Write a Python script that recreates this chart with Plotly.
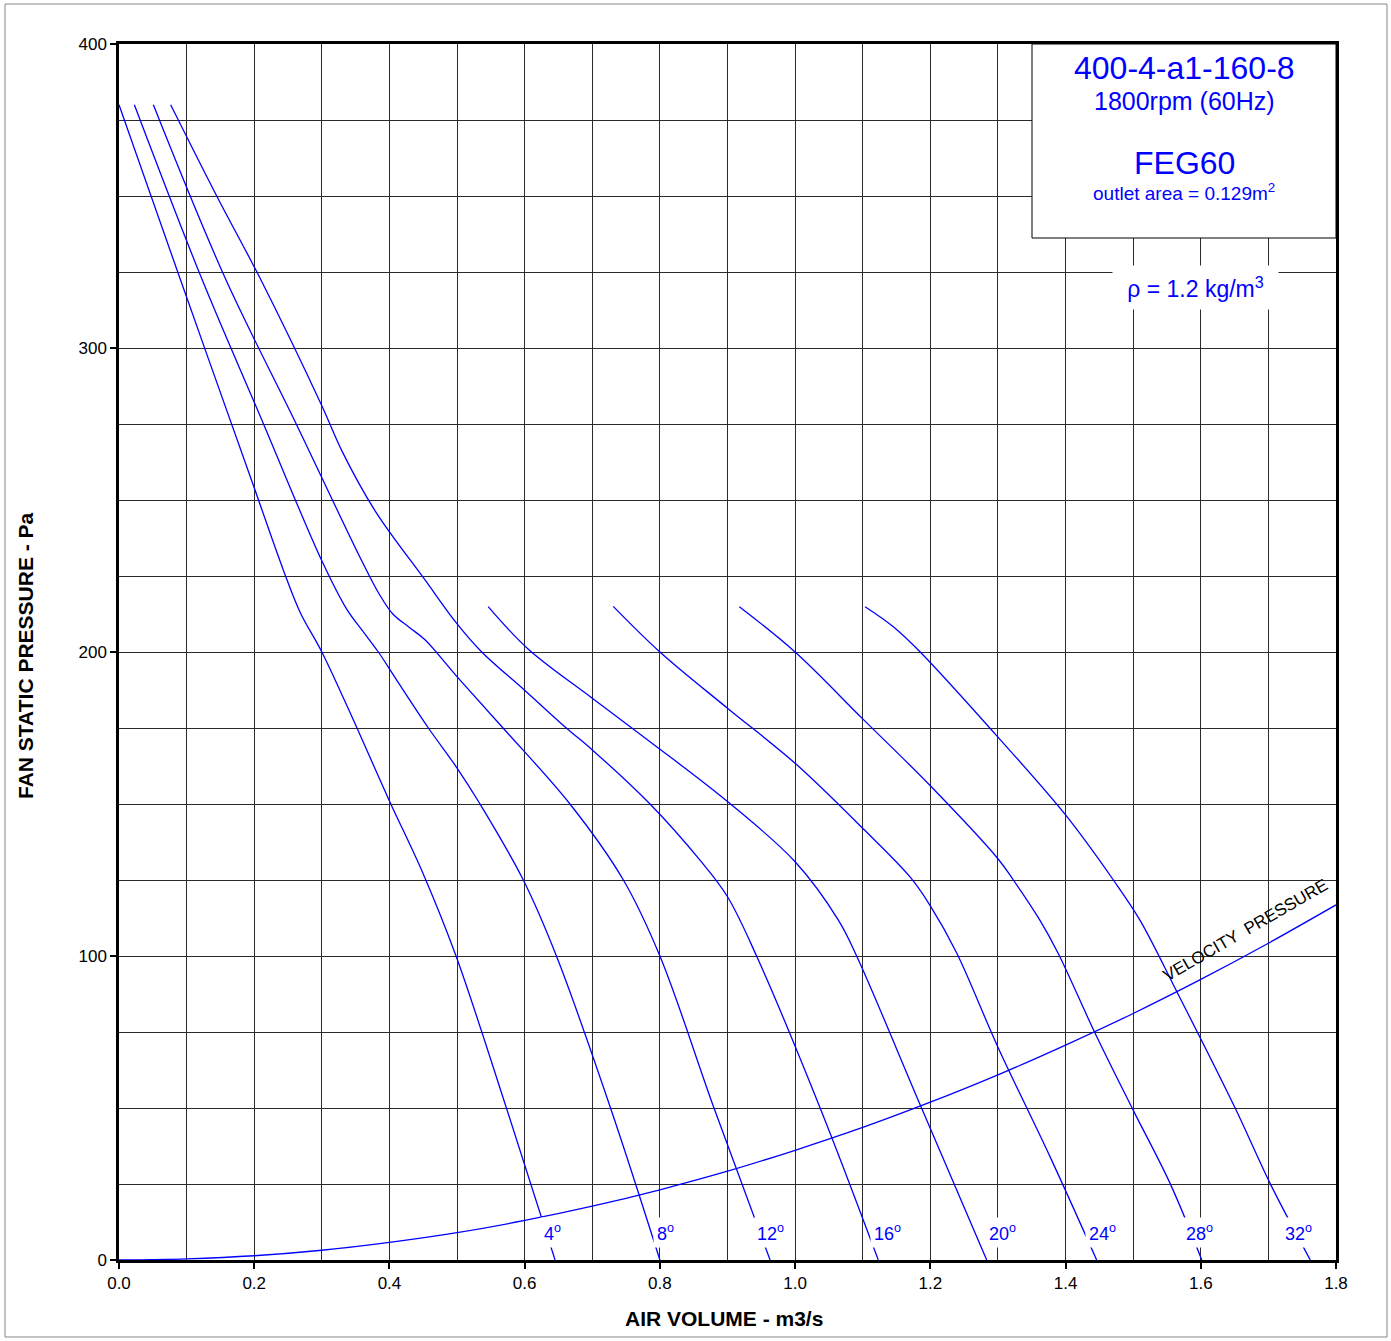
import plotly.graph_objects as go

# ---- data ----
q_4 = [0.0, 0.09, 0.20, 0.243, 0.268, 0.30, 0.352, 0.40, 0.45, 0.4985, 0.573, 0.645]
p_4 = [380, 323, 254, 227, 213, 200, 175, 151, 127, 100, 50, 0]

q_8 = [0.0227, 0.122, 0.21, 0.30, 0.337, 0.36, 0.3836, 0.41, 0.4576, 0.4995, 0.534, 0.598, 0.647, 0.727, 0.80]
p_8 = [380, 323, 277, 230, 214, 207, 200, 191, 175, 162, 150, 125, 100, 50, 0]

q_12 = [0.0508, 0.157, 0.26, 0.359, 0.385, 0.405, 0.43, 0.4526, 0.4995, 0.568, 0.667, 0.746, 0.80, 0.88, 0.963]
p_12 = [380, 323, 276, 230, 219, 212.5, 208, 204, 192, 175, 150, 125, 100, 50, 0]

q_16 = [0.0764, 0.1445, 0.2085, 0.30, 0.33, 0.38, 0.4526, 0.4995, 0.5365, 0.5995, 0.662, 0.70, 0.7854, 0.859, 0.90, 0.943, 1.037, 1.123]
p_16 = [380, 350, 323, 281, 266, 246, 223.7, 209.4, 200, 187.5, 174.9, 167.8, 150, 131.6, 119.5, 100, 50, 0]

q_20 = [0.546, 0.605, 0.70, 0.7854, 0.90, 1.0, 1.064, 1.091, 1.187, 1.2834]
p_20 = [214.9, 201, 184.8, 170.5, 150.8, 131, 111.8, 100, 50, 0]

q_24 = [0.731, 0.80, 0.90, 1.0, 1.10, 1.17, 1.20, 1.239, 1.30, 1.377, 1.446]
p_24 = [215, 200, 181.5, 163.4, 142, 126, 116.5, 101, 70, 34, 0]

q_28 = [0.9175, 1.0, 1.1, 1.2, 1.30, 1.3228, 1.362, 1.389, 1.4437, 1.50, 1.5546, 1.6015]
p_28 = [214.9, 200, 178, 156, 132, 125, 111.8, 100.9, 74.6, 49.3, 25.2, 0]

q_32 = [1.1035, 1.1453, 1.185, 1.30, 1.40, 1.4707, 1.51, 1.5645, 1.651, 1.7025, 1.762]
p_32 = [214.9, 208.3, 200, 172, 146.4, 125, 111.8, 88.3, 49.9, 25.2, 0]

q_vp = [0.0, 0.1, 0.2, 0.3, 0.4, 0.5, 0.6, 0.7, 0.8, 0.9, 1.0, 1.1, 1.2, 1.3, 1.4, 1.5, 1.6, 1.7, 1.8]
p_vp = [0, 0.4, 1.4, 3.2, 5.8, 9.0, 13.0, 17.7, 23.1, 29.2, 36.1, 43.6, 51.9, 60.9, 70.7, 81.1, 92.3, 104.2, 116.8]

angle_labels = ["4", "8", "12", "16", "20", "24", "28", "32"]

x_tick_vals = [0.0, 0.2, 0.4, 0.6, 0.8, 1.0, 1.2, 1.4, 1.6, 1.8]
y_tick_vals = [0, 100, 200, 300, 400]

BLUE = "#0000FF"
FONT = "Liberation Sans, Arial, sans-serif"

fig = go.Figure()

curves = [(q_4, p_4), (q_8, p_8), (q_12, p_12), (q_16, p_16),
          (q_20, p_20), (q_24, p_24), (q_28, p_28), (q_32, p_32)]
for (qx, py), lab in zip(curves, angle_labels):
    fig.add_trace(go.Scatter(x=qx, y=py, mode="lines", name=lab,
                             line=dict(color=BLUE, width=1.3, shape="spline", smoothing=1.0),
                             hoverinfo="x+y"))

fig.add_trace(go.Scatter(x=q_vp, y=p_vp, mode="lines", name="velocity pressure",
                         line=dict(color=BLUE, width=1.3, shape="spline", smoothing=0.8)))

grid_col = "#2a2a2a"
fig.update_xaxes(range=[0, 1.8], tickvals=x_tick_vals, tickformat=".1f",
                 showgrid=True, gridcolor=grid_col, gridwidth=1,
                 minor=dict(dtick=0.1, showgrid=True, gridcolor=grid_col, gridwidth=1, ticks=""),
                 ticks="outside", ticklen=6, tickcolor="black", tickwidth=1.5,
                 showline=True, linecolor="black", linewidth=2.5, mirror=True,
                 zeroline=False,
                 tickfont=dict(family=FONT, size=17, color="black"))
fig.update_yaxes(range=[0, 400], tickvals=y_tick_vals,
                 showgrid=True, gridcolor=grid_col, gridwidth=1,
                 minor=dict(dtick=25, showgrid=True, gridcolor=grid_col, gridwidth=1, ticks=""),
                 ticks="outside", ticklen=6, tickcolor="black", tickwidth=1.5,
                 showline=True, linecolor="black", linewidth=2.5, mirror=True,
                 zeroline=False,
                 tickfont=dict(family=FONT, size=17, color="black"))


def px_x(p):
    return (p - 119) / 1217


def px_y(p):
    return (1260 - p) / 1216


annotations = []
# degree labels near the x axis
label_x = [0.6405, 0.809, 0.963, 1.136, 1.306, 1.455, 1.5974, 1.744]
for lx, lab in zip(label_x, angle_labels):
    annotations.append(dict(x=lx, y=8.9, xref="x", yref="y", text=lab + "<sup>o</sup>",
                            showarrow=False, bgcolor="white", borderpad=3,
                            xanchor="center", yanchor="middle",
                            font=dict(family=FONT, size=18, color=BLUE)))

cx = px_x(1184)
annotations += [
    dict(x=cx, y=px_y(68), text="400-4-a1-160-8",
         font=dict(family=FONT, size=32, color=BLUE)),
    dict(x=cx, y=px_y(101), text="1800rpm (60Hz)",
         font=dict(family=FONT, size=25, color=BLUE)),
    dict(x=cx, y=px_y(163), text="FEG60",
         font=dict(family=FONT, size=32, color=BLUE)),
    dict(x=cx, y=px_y(192), text="outlet area = 0.129m<sup>2</sup>",
         font=dict(family=FONT, size=19, color=BLUE)),
    dict(x=px_x(1195), y=px_y(287.5), text="ρ = 1.2 kg/m<sup>3</sup>", bgcolor="white",
         width=163, height=41, font=dict(family=FONT, size=23, color=BLUE)),
    dict(x=px_x(1245), y=px_y(930), text="VELOCITY  PRESSURE", textangle=-30,
         font=dict(family=FONT, size=17, color="black")),
    dict(x=px_x(724), y=px_y(1318), text="<b>AIR VOLUME - m3/s</b>",
         font=dict(family=FONT, size=21, color="black")),
    dict(x=px_x(25), y=px_y(656), text="<b>FAN STATIC PRESSURE - Pa</b>", textangle=-90,
         font=dict(family=FONT, size=21, color="black")),
]
for a in annotations[len(label_x):]:
    a.update(xref="paper", yref="paper", showarrow=False, xanchor="center", yanchor="middle")

shapes = [
    dict(type="rect", xref="paper", yref="paper",
         x0=px_x(1032), x1=1.0, y0=px_y(238), y1=1.0,
         fillcolor="white", line=dict(color="black", width=1), layer="above"),
    dict(type="rect", xref="paper", yref="paper",
         x0=px_x(5), x1=px_x(1387), y0=px_y(1337), y1=px_y(4),
         fillcolor="rgba(0,0,0,0)", line=dict(color="#888888", width=1), layer="above"),
]

fig.update_layout(width=1391, height=1341,
                  margin=dict(l=119, r=55, t=44, b=81),
                  paper_bgcolor="white", plot_bgcolor="white",
                  showlegend=False, annotations=annotations, shapes=shapes)

fig.write_html("out.html", config={"displayModeBar": False},
               post_script="document.body.style.margin='0';document.body.style.overflow='hidden';")
